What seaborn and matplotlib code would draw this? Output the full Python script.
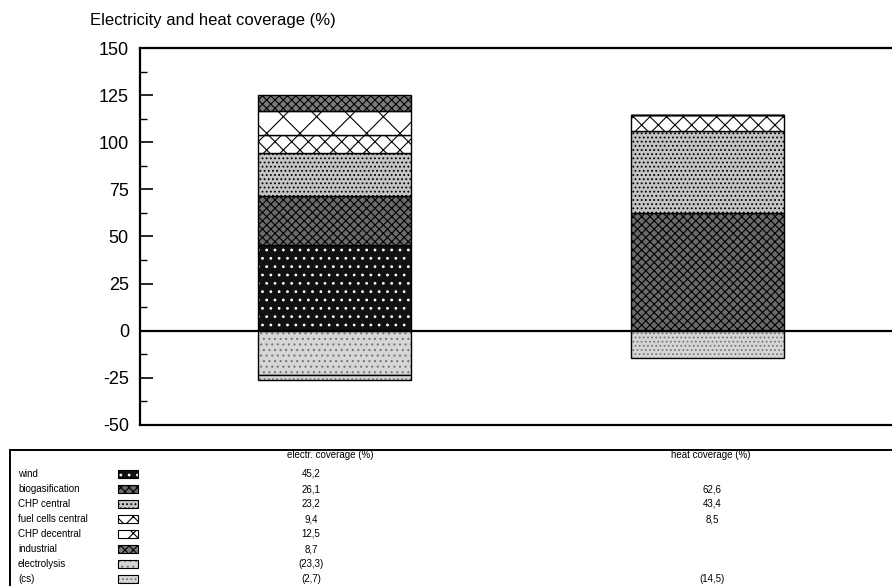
import numpy as np
import seaborn as sns
import matplotlib.pyplot as plt
from matplotlib.patches import Rectangle

columns = ['electr. coverage (%)', 'heat coverage (%)']
sources = ['wind', 'biogasification', 'CHP central', 'fuel cells central',
           'CHP decentral', 'industrial', 'electrolysis', '(cs)']
electr = [45.2, 26.1, 23.2, 9.4, 12.5, 8.7, -23.3, -2.7]
heat = [0.0, 62.6, 43.4, 8.5, 0.0, 0.0, 0.0, -14.5]
electr_text = ['45,2', '26,1', '23,2', '9,4', '12,5', '8,7', '(23,3)', '(2,7)']
heat_text = ['', '62,6', '43,4', '8,5', '', '', '', '(14,5)']

# face, hatch, hatch colour for each source
styles = [
    ('#111111', '..', 'white'),
    ('#6a6a6a', 'xxxx', 'black'),
    ('#c4c4c4', '....', 'black'),
    ('white', 'xx', 'black'),
    ('white', 'x', 'black'),
    ('#7a7a7a', 'xxxx', 'black'),
    ('#d6d6d6', '...', '#777777'),
    ('#d6d6d6', '....', '#777777'),
]

sns.set_style('ticks')
plt.rcParams['font.family'] = ['Liberation Sans', 'DejaVu Sans']
plt.rcParams['hatch.linewidth'] = 0.8
plt.rcParams['axes.unicode_minus'] = False
plt.rcParams['text.color'] = 'black'
plt.rcParams['ytick.color'] = 'black'
plt.rcParams['ytick.labelcolor'] = 'black'

fig = plt.figure(figsize=(8.92, 5.86), dpi=100)
ax = fig.add_axes([0.157, 0.275, 0.86, 0.643])

pos_bottom = np.zeros(2)
neg_bottom = np.zeros(2)
for i, name in enumerate(sources):
    vals = np.array([electr[i], heat[i]])
    bottom = np.where(vals >= 0, pos_bottom, neg_bottom)
    face, hatch, hcol = styles[i]
    sns.barplot(x=columns, y=vals, bottom=bottom, color=face, saturation=1,
                width=0.41, hatch=hatch, edgecolor=hcol, linewidth=0, ax=ax)
    sns.barplot(x=columns, y=vals, bottom=bottom, color='black', fill=False,
                width=0.41, linewidth=1.0, ax=ax)
    pos_bottom = pos_bottom + np.where(vals > 0, vals, 0)
    neg_bottom = neg_bottom + np.where(vals < 0, vals, 0)

ax.axhline(0, color='black', lw=1.6, zorder=5)
ax.set_xlim(-0.52, 1.536)
ax.set_ylim(-50, 150)
ax.set_yticks(np.arange(-50, 151, 25))
ax.set_yticks(np.arange(-50, 151, 12.5), minor=True)
ax.tick_params(axis='y', which='major', direction='in', length=9, width=1.2,
               labelsize=13, pad=8, colors='black')
ax.tick_params(axis='y', which='minor', direction='in', length=5, width=1.0,
               colors='black')
ax.set_xticks([])
ax.set_xlabel('')
ax.set_ylabel('')
ax.spines['right'].set_visible(False)
for s in ['left', 'top', 'bottom']:
    ax.spines[s].set_linewidth(1.6)
    ax.spines[s].set_color('black')

fig.text(90 / 892, 1 - 20 / 586, 'Electricity and heat coverage (%)',
         fontsize=12, ha='left', va='center')

# data table under the chart
W, H = 892, 586
fig.add_artist(Rectangle((10 / W, -0.1), 1.0, (H - 450) / H + 0.1,
                         transform=fig.transFigure, fill=False,
                         edgecolor='black', lw=1.4))
fig.text(330 / W, 1 - 455 / H, columns[0], fontsize=7, ha='center', va='center')
fig.text(711 / W, 1 - 455 / H, columns[1], fontsize=7, ha='center', va='center')
for i, name in enumerate(sources):
    y = 1 - (474 + 15 * i) / H
    fig.text(18 / W, y, name, fontsize=7, ha='left', va='center')
    face, hatch, hcol = styles[i]
    fig.add_artist(Rectangle((118 / W, y - 4 / H), 20 / W, 8 / H,
                             transform=fig.transFigure, facecolor=face,
                             hatch=hatch, edgecolor=hcol, lw=0))
    fig.add_artist(Rectangle((118 / W, y - 4 / H), 20 / W, 8 / H,
                             transform=fig.transFigure, fill=False,
                             edgecolor='black', lw=0.8))
    fig.text(311 / W, y, electr_text[i], fontsize=7, ha='center', va='center')
    fig.text(712 / W, y, heat_text[i], fontsize=7, ha='center', va='center')

fig.savefig('out.png', dpi=100)
